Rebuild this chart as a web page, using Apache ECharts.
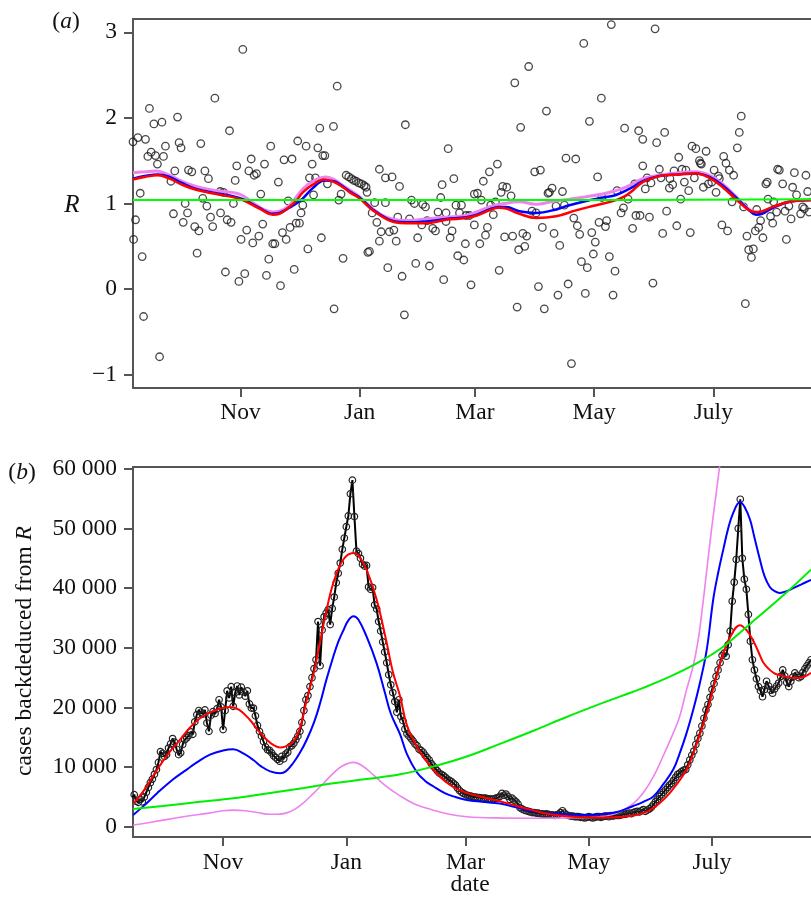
<!DOCTYPE html>
<html><head><meta charset="utf-8">
<script src="https://cdn.jsdelivr.net/npm/echarts@6/dist/echarts.min.js"></script>
<style>html,body{margin:0;padding:0;background:#fff}#c{width:811px;height:903px}</style>
</head><body><div id="c"></div><script>
// x values are days since 2020-09-07
const monthTickDays = [55, 116, 175, 236, 297];
const monthTickLabels = ['Nov', 'Jan', 'Mar', 'May', 'July'];
const rTicks = [-1, 0, 1, 2, 3];
const caseTicks = [0, 10000, 20000, 30000, 40000, 50000, 60000];

// (a) daily R estimates [day, R]
const rPoints = [
[56.2,2.80],[41.9,2.23],[8.4,2.11],[22.8,2.01],[10.7,1.93],[14.8,1.95],[49.4,1.85],[0,1.72],[2.5,1.77],[6.4,1.75],
[16.6,1.67],[23.6,1.71],[24.6,1.65],[34.7,1.70],[70.5,1.67],[84.3,1.73],[9.3,1.60],[7.6,1.55],[11.5,1.56],[15.6,1.55],
[12.5,1.46],[21.4,1.38],[28.4,1.39],[30.1,1.37],[36.8,1.38],[38.6,1.29],[53.1,1.44],[52.3,1.27],[59.3,1.38],[60.5,1.52],
[63.2,1.35],[62.0,1.33],[67.3,1.46],[77.3,1.51],[81.4,1.52],[74.4,1.25],[19.4,1.26],[3.7,1.12],[35.7,1.06],[44.6,1.14],
[46.3,1.13],[51.4,1.00],[65.4,1.11],[79.4,1.03],[86.9,0.98],[26.7,1.00],[37.8,0.97],[20.7,0.88],[27.9,0.89],[25.7,0.78],
[39.7,0.84],[44.8,0.89],[48.2,0.81],[50.2,0.78],[40.8,0.73],[31.6,0.73],[33.7,0.68],[1.3,0.81],[0.3,0.58],[55.3,0.58],
[58.2,0.69],[61.3,0.54],[64.4,0.62],[66.4,0.76],[71.5,0.53],[72.6,0.53],[76.5,0.66],[78.4,0.58],[80.4,0.72],[83.5,0.77],
[85.2,0.77],[4.7,0.38],[32.8,0.42],[69.5,0.35],[47.3,0.20],[57.2,0.18],[54.2,0.09],[68.3,0.16],[75.5,0.04],[82.5,0.23],
[5.4,-0.32],[13.6,-0.79],
[104.5,2.37],[95.6,1.88],[102.6,1.90],[139.4,1.92],[88.6,1.67],[94.6,1.65],[98.2,1.56],[97.1,1.56],[161.3,1.64],
[91.7,1.46],[126.1,1.40],[129.2,1.30],[132.6,1.31],[136.4,1.20],[158.2,1.22],[164.2,1.29],[90.3,1.30],[93.4,1.30],
[109.1,1.33],[110.4,1.31],[111.8,1.29],[113.0,1.27],[114.2,1.26],[115.5,1.24],[116.9,1.23],[118.3,1.21],[119.3,1.19],
[99.5,1.23],[106.5,1.11],[105.3,1.04],[92.4,1.10],[119.8,1.13],[86.0,0.89],
[123.7,1.01],[129.2,1.01],[122.4,0.89],[124.8,0.78],[135.5,0.84],[141.5,0.82],[142.5,1.04],[144.0,1.00],[148.3,0.99],[149.7,0.96],
[150.5,0.80],[156.1,0.90],[157.5,1.07],[165.3,0.98],[168.1,0.98],[167.1,0.89],[170.5,0.86],[172.2,0.86],[174.7,1.11],
[131.2,0.67],[133.5,0.69],[127.0,0.67],[126.1,0.56],[121.0,0.44],[120.2,0.43],[134.7,0.56],[145.7,0.60],[147.8,0.75],[153.4,0.71],
[154.8,0.68],[160.2,0.79],[163.3,0.68],[162.3,0.60],[170.1,0.53],[166.2,0.39],[169.3,0.34],[160.2,0.89],
[89.5,0.47],[96.4,0.60],[107.5,0.36],[130.4,0.25],[144.7,0.30],[151.7,0.27],[137.7,0.15],[159.0,0.11],[173.0,0.05],
[102.9,-0.23],[138.9,-0.30],
[244.8,3.09],[230.7,2.87],[202.5,2.60],[195.4,2.41],[239.7,2.23],[211.6,2.08],[233.6,1.96],[198.4,1.89],[251.6,1.88],[258.8,1.85],[260.9,1.75],
[221.6,1.53],[226.6,1.52],[186.5,1.46],[182.4,1.37],[205.6,1.37],[208.5,1.39],[237.8,1.31],[179.3,1.26],[260.9,1.44],
[189.2,1.20],[191.3,1.19],[176.3,1.12],[188.4,1.13],[193.5,1.09],[214.5,1.18],[213.1,1.13],[212.4,1.12],[219.8,1.14],[178.3,1.04],
[185.5,1.02],[183.1,0.98],[184.4,0.87],[204.2,0.91],[206.3,0.89],[216.5,0.97],[220.8,0.98],[240.0,1.07],[247.7,1.15],[256.8,1.23],
[253.4,1.05],[251.0,0.95],[249.8,0.89],[257.4,0.86],[259.5,0.86],
[174.7,0.75],[181.4,0.72],[180.4,0.63],[177.5,0.53],[190.2,0.61],[194.3,0.62],[199.5,0.65],[201.5,0.62],[200.5,0.50],[197.4,0.46],
[209.5,0.72],[215.5,0.65],[218.4,0.51],[225.6,0.83],[227.4,0.74],[228.6,0.64],[234.8,0.66],[236.6,0.55],[238.5,0.78],[242.4,0.80],
[241.8,0.73],[235.6,0.41],[229.5,0.32],[232.5,0.25],[243.8,0.38],[246.7,0.21],[255.7,0.71],
[187.4,0.22],[207.5,0.03],[222.7,0.06],[217.5,-0.07],[231.5,-0.05],[245.7,-0.07],[196.6,-0.21],[210.5,-0.23],[224.4,-0.87],
[267.2,3.04],[311.3,2.02],[310.3,1.83],[309.3,1.65],[272.1,1.83],[268.0,1.71],
[286.1,1.67],[288.1,1.64],[293.3,1.61],[279.3,1.54],[289.9,1.50],[290.4,1.47],[290.9,1.46],[302.3,1.55],[303.5,1.47],[305.2,1.39],
[307.4,1.33],[299.6,1.32],[297.4,1.39],
[269.4,1.40],[276.9,1.38],[281.0,1.40],[283.0,1.39],[270.2,1.30],[263.1,1.30],[265.1,1.24],[262.2,1.17],[274.8,1.29],[274.5,1.18],
[276.2,1.22],[282.2,1.25],[284.4,1.15],[287.3,1.30],[291.9,1.19],[294.5,1.23],[296.2,1.25],[298.4,1.13],[300.1,1.29],
[329.9,1.40],[330.8,1.39],[338.5,1.36],[344.4,1.33],[332.5,1.23],[337.6,1.19],[339.6,1.10],[345.3,1.14],[323.9,1.23],[325.0,1.05],
[327.9,1.02],[324.6,1.25],
[280.3,1.05],[306.6,1.02],[312.5,0.96],[319.2,0.93],[329.4,0.90],[333.7,0.91],[335.7,0.97],[342.7,0.96],[343.6,0.94],[341.7,0.88],
[346.1,0.90],[321.2,0.80],[320.2,0.72],[318.5,0.68],[326.3,0.85],[327.4,0.77],[336.8,0.82],
[273.1,0.91],[264.3,0.84],[278.3,0.74],[271.1,0.65],[285.2,0.66],[301.4,0.75],[304.3,0.68],[314.2,0.62],[322.4,0.60],[334.4,0.58],
[315.1,0.46],[317.5,0.47],[316.5,0.37],[266.1,0.07],[313.4,-0.17]
];

const redR = [[0,1.28],[6,1.31],[12.7,1.33],[18.7,1.29],[25,1.22],[32.3,1.16],[42.6,1.11],[50,1.08],[56.2,1.04],[64.7,0.94],[71.5,0.87],[75,0.88],[80,0.96],[83.5,1.03],[86.9,1.13],[92,1.22],[98,1.28],[103,1.25],[107.4,1.19],[111,1.13],[115.9,1.06],[122.7,0.92],[129.5,0.82],[134,0.78],[139.8,0.77],[150,0.77],[160.2,0.81],[170.5,0.83],[176,0.86],[182.4,0.92],[187,0.95],[191,0.94],[197.8,0.88],[206.3,0.83],[216.5,0.85],[226.7,0.92],[237,0.98],[247.2,1.04],[252,1.09],[255.7,1.15],[260.9,1.25],[269.4,1.32],[279.6,1.34],[288.1,1.35],[295,1.30],[301.8,1.19],[308.6,1.05],[315.4,0.92],[319.7,0.90],[327.4,0.96],[335.9,1.02],[347,1.04]];
const blueR = [[0,1.29],[6,1.32],[12.7,1.34],[18.7,1.31],[25,1.24],[32.3,1.17],[42.6,1.12],[50,1.09],[56.2,1.05],[64.7,0.95],[71.5,0.88],[75,0.89],[80,0.95],[86,1.04],[92,1.18],[98,1.27],[103,1.26],[107.4,1.20],[111,1.14],[115.9,1.07],[122.7,0.93],[129.5,0.83],[134,0.79],[139.8,0.78],[150,0.79],[160.2,0.82],[170.5,0.84],[176,0.87],[182.4,0.93],[187,0.96],[191,0.96],[197.8,0.91],[206.3,0.89],[216.5,0.93],[223.3,0.98],[232,1.03],[240.4,1.07],[247.2,1.10],[254,1.17],[260.9,1.26],[269.4,1.32],[279.6,1.34],[288.1,1.35],[295,1.31],[301.8,1.21],[308.6,1.07],[315.4,0.92],[318.8,0.87],[322,0.88],[327.4,0.95],[335.9,1.02],[347,1.04]];
const violetR = [[0,1.36],[6,1.37],[11.9,1.38],[18.7,1.33],[25,1.26],[32.3,1.20],[42.6,1.15],[54.5,1.11],[62,1.00],[67,0.93],[71.5,0.90],[75,0.91],[80,0.98],[86.9,1.17],[92,1.26],[98.8,1.31],[103,1.28],[107.4,1.21],[115.9,1.08],[122.7,0.94],[129.5,0.84],[139.8,0.80],[150,0.82],[160.2,0.84],[170.5,0.86],[182.4,0.96],[190,1.00],[197.8,1.02],[206.3,0.99],[214,1.02],[223.3,1.05],[232,1.08],[240.4,1.11],[247,1.15],[252.3,1.19],[260.9,1.29],[269.4,1.33],[279.6,1.36],[288.1,1.37],[295,1.33],[301.8,1.23],[308.6,1.08],[315.4,0.93],[319.7,0.89],[327.4,0.95],[335.9,1.02],[347,1.04]];
const greenR = [[0,1.04],[261,1.04],[261,1.05],[347,1.05]];

// (b) cases back-deduced from R, daily from day 10
const casesStartDay = 10;
const casesDaily = [
4800,5400,4300,4100,4600,4200,5000,5800,6600,7400,8000,8800,9600,
10800,12600,12300,11800,12100,13200,13900,14800,
14200,13000,12100,12400,13800,14600,14900,
15300,15900,15500,17600,18800,19500,19200,18900,
19600,17400,16000,18700,19300,19000,19800,
21300,20100,16300,19500,22800,21600,
23500,20200,22500,23600,22100,23400,22600,21900,22800,
20600,19900,19900,18600,17000,16000,15200,14300,13400,
12900,12800,12400,11900,11600,11300,11000,11800,11400,12200,12500,
13400,13600,14000,14600,15200,16000,17500,19500,21300,22000,23500,25000,26500,
28000,34400,27000,33000,35200,35800,36400,33900,36600,38500,40900,
42500,44200,46500,48400,50300,52100,55800,58100,
52000,46200,45800,45000,44000,43700,43800,40200,
39800,40100,37200,36500,34400,32800,31000,29300,
27500,25500,23800,22500,21000,19200,21300,18500,17800,16400,15600,
15200,14800,14400,13900,13600,13000,12800,12500,12000,11600,11200,10600,10200,9800,
9400,9000,8800,8600,8300,8000,7800,7600,7300,7000,6500,6100,5800,5600,5400,
5300,5200,5100,5000,5000,4900,4900,4800,4800,4800,4700,4700,4600,4700,4800,4900,5100,5600,5300,5500,5100,4600,4800,4500,4200,
3800,3200,3000,2800,2700,2600,2500,2400,2400,2300,2300,2200,2200,2100,2200,
2100,2000,2000,1900,2000,2100,2400,2700,2300,2000,1900,1800,1800,1700,1700,
1700,1600,1600,1500,1600,1700,1600,1500,1600,1700,1700,1600,1700,1800,1800,1700,1900,1800,1900,1900,
1900,2000,2100,2100,2200,2300,2200,2400,2500,2600,2500,2700,2900,2600,2800,
3000,3300,3700,4200,4600,5100,5400,5800,6200,6600,7000,7300,7800,8300,8800,
9000,9300,9500,9600,10400,11200,12000,12700,13800,14800,15700,
16900,18200,19600,20500,21700,23000,24000,25200,26300,27500,28700,29100,
28600,30500,32800,37800,41000,44800,50000,54900,45000,41500,39800,35600,31100,28000,26300,
24800,23500,22800,21800,23000,24400,23600,22900,22400,23100,23600,24100,25200,26300,25300,24200,23500,24400,25100,25800,25400,25000,25200,25900,26500,27000,27500,28000
];
const redB = [[10.5,3900],[16,6200],[22.2,9500],[28,12300],[33.7,14600],[38.5,16600],[43.6,18200],[50,19400],[58.4,20100],[63,19600],[68.3,17900],[72,16300],[76.6,14600],[80,13700],[83.2,13300],[86,13500],[89.8,14300],[93,16500],[96.4,21300],[100,26000],[103,31000],[106,36000],[109.6,40900],[114.5,44800],[119.5,45900],[122,45500],[126,43100],[131,38100],[136,30800],[139,26000],[142.6,21900],[146,17000],[150.8,13500],[155,11300],[159,9600],[165,7600],[170,6500],[175.6,5700],[183,5000],[192,4300],[200.3,3500],[208,2800],[216.8,2100],[225,1800],[233,1600],[241,1550],[249.8,1600],[256,1800],[263,2300],[269,3400],[274.6,5100],[279,6900],[284.4,9600],[289,13500],[294.4,19100],[298,23700],[302.6,29100],[306,31800],[310.8,33800],[314,33000],[317.4,31200],[320,29300],[322.3,27600],[325,26500],[328,25700],[332,25300],[336,25000],[340.5,25000],[346,25800]];
const blueB = [[10.5,2000],[16,3600],[22.2,5600],[30,7900],[37,9600],[42,10800],[48.5,12100],[55,12800],[60,13000],[65,12300],[70,11200],[74,10100],[78.3,9300],[83.2,9000],[86,9300],[89.7,10700],[93,12400],[96.4,14600],[100,17500],[103,20700],[106,24500],[109.6,28600],[112,31000],[114.5,32900],[117,34600],[119.5,35300],[122,34700],[126,31900],[131,27400],[135,22600],[138,19000],[142.6,15500],[146,12200],[150.8,9200],[155,7700],[159,6800],[165,5600],[170,5000],[175.6,4500],[183,4200],[192,3900],[200,3300],[208.5,2600],[216,2300],[225,2100],[233,2000],[241.6,2100],[250,2500],[258,3500],[263,4200],[268,5100],[273,7200],[277.8,9600],[281,12300],[284.4,15700],[288,20000],[291,24100],[294.4,29700],[297.6,38100],[300,42500],[302.6,46500],[305,50000],[307.5,52600],[310.8,54400],[313,53700],[315.8,51500],[318,48500],[320.7,44800],[323,42000],[325.6,40200],[328,39500],[330.6,39200],[334,39500],[337.2,40000],[341,40600],[346,41400]];
const violetB = [[10.5,300],[20,800],[35.3,1700],[48,2300],[55,2700],[60,2800],[66,2700],[72,2400],[78,2100],[82,2100],[86,2300],[89.8,2800],[94,3800],[99.7,5600],[105,7400],[109.6,9000],[114,10200],[119.5,10800],[124,10200],[129.4,8700],[135,7000],[142.6,5200],[150,3800],[159,2800],[167,2100],[175.6,1700],[190,1500],[208.5,1450],[225,1500],[241.6,1700],[250,2300],[258,3900],[263,5700],[268,8400],[273,12000],[277.8,15700],[281,18500],[284.4,23000],[287.7,27000],[290,31000],[292,36000],[294.4,43000],[297,50500],[299.3,56500],[301,61000],[303,66000]];
const greenB = [[10.5,3000],[25,3500],[43.6,4200],[60,4800],[76.6,5600],[95,6500],[109.6,7300],[126,8000],[142.6,8800],[160,10200],[175.6,11800],[192,13900],[208.6,16100],[225,18400],[241.6,20600],[252,21900],[263,23300],[275,25000],[287.7,27100],[301,29800],[315.8,34000],[332.3,38800],[346,43100]];

const casesPairs = casesDaily.map((v, i) => [casesStartDay + i, v]);

const FONT = 'Liberation Serif';
const FS = 23.5;
const AX = {color: '#555', width: 2};
const TXT = '#111';
function xAxes(grid, min, max, margin) {
  return [
    {gridIndex: grid, type: 'value', min: min, max: max, position: 'bottom',
     axisLine: {show: true, onZero: false, lineStyle: AX},
     axisTick: {show: true, length: 9, lineStyle: AX, customValues: monthTickDays},
     axisLabel: {show: true, customValues: monthTickDays, margin: margin,
       formatter: v => monthTickLabels[monthTickDays.indexOf(v)] || '',
       fontFamily: FONT, fontSize: FS, color: TXT},
     splitLine: {show: false}},
    {gridIndex: grid, type: 'value', min: min, max: max, position: 'top',
     axisLine: {show: true, onZero: false, lineStyle: AX},
     axisTick: {show: false}, axisLabel: {show: false}, splitLine: {show: false}}
  ];
}
const line = (x, y, data, color, width, z) => ({type: 'line', xAxisIndex: x, yAxisIndex: y, data: data,
  showSymbol: false, smooth: 0.4, lineStyle: {color: color, width: width}, z: z, silent: true});
const italic = {i: {fontFamily: FONT, fontSize: FS, fontStyle: 'italic', fill: TXT}};

const chart = echarts.init(document.getElementById('c'), null, {renderer: 'canvas'});
chart.setOption({
  animation: false,
  backgroundColor: '#fff',
  grid: [{left: 133, top: 19, width: 678, height: 369}, {left: 133, top: 467, width: 678, height: 370}],
  xAxis: [...xAxes(0, 0, 347, 13), ...xAxes(1, 10.4, 346, 14)],
  yAxis: [
    {gridIndex: 0, type: 'value', min: -1.155, max: 3.155,
     axisLine: {show: true, onZero: false, lineStyle: AX},
     axisTick: {show: true, length: 9, lineStyle: AX, customValues: rTicks},
     axisLabel: {customValues: rTicks, margin: 16, fontFamily: FONT, fontSize: FS, color: TXT,
       formatter: v => v < 0 ? '\u2212' + (-v) : String(v)},
     splitLine: {show: false}},
    {gridIndex: 1, type: 'value', min: -1700, max: 60300,
     axisLine: {show: true, onZero: false, lineStyle: AX},
     axisTick: {show: true, length: 9, lineStyle: AX, customValues: caseTicks},
     axisLabel: {customValues: caseTicks, margin: 16, fontFamily: FONT, fontSize: FS, color: TXT,
       formatter: v => v === 0 ? '0' : (v / 1000) + ' 000'},
     splitLine: {show: false}}
  ],
  series: [
    {type: 'scatter', xAxisIndex: 0, yAxisIndex: 0, data: rPoints, symbol: 'circle', symbolSize: 7.5,
     itemStyle: {color: 'rgba(0,0,0,0)', borderColor: '#1a1a1a', borderWidth: 1.3}, z: 2, silent: true},
    line(0, 0, violetR, '#EE82EE', 3, 3),
    line(0, 0, blueR, '#0000FF', 2.5, 4),
    line(0, 0, redR, '#FF0000', 2.5, 5),
    {type: 'line', xAxisIndex: 0, yAxisIndex: 0, data: greenR, showSymbol: false,
     lineStyle: {color: '#00FF00', width: 2}, z: 6, silent: true},
    {type: 'line', xAxisIndex: 2, yAxisIndex: 1, data: casesPairs, symbol: 'circle', symbolSize: 6.5, showSymbol: true,
     lineStyle: {color: '#000', width: 2}, itemStyle: {color: 'rgba(0,0,0,0)', borderColor: '#222', borderWidth: 1.2},
     z: 2, silent: true},
    line(2, 1, violetB, '#EE82EE', 1.6, 3),
    line(2, 1, blueB, '#0000FF', 2, 4),
    line(2, 1, redB, '#FF0000', 2, 5),
    line(2, 1, greenB, '#00EE00', 2, 6)
  ],
  graphic: [
    {type: 'text', x: 66, y: 22, style: {text: '({i|a})', fontFamily: FONT, fontSize: FS, fill: TXT,
      align: 'center', verticalAlign: 'middle', rich: italic}},
    {type: 'text', x: 72, y: 205, style: {text: 'R', fontFamily: FONT, fontSize: 25, fontStyle: 'italic', fill: TXT,
      align: 'center', verticalAlign: 'middle'}},
    {type: 'text', x: 22, y: 473, style: {text: '({i|b})', fontFamily: FONT, fontSize: FS, fill: TXT,
      align: 'center', verticalAlign: 'middle', rich: italic}},
    {type: 'text', x: 25, y: 651, rotation: Math.PI / 2, style: {text: 'cases backdeduced from {i|R}',
      fontFamily: FONT, fontSize: FS, fill: TXT, align: 'center', verticalAlign: 'middle', rich: italic}},
    {type: 'text', x: 470, y: 885, style: {text: 'date', fontFamily: FONT, fontSize: FS, fill: TXT,
      align: 'center', verticalAlign: 'middle'}}
  ]
});
</script></body></html>
